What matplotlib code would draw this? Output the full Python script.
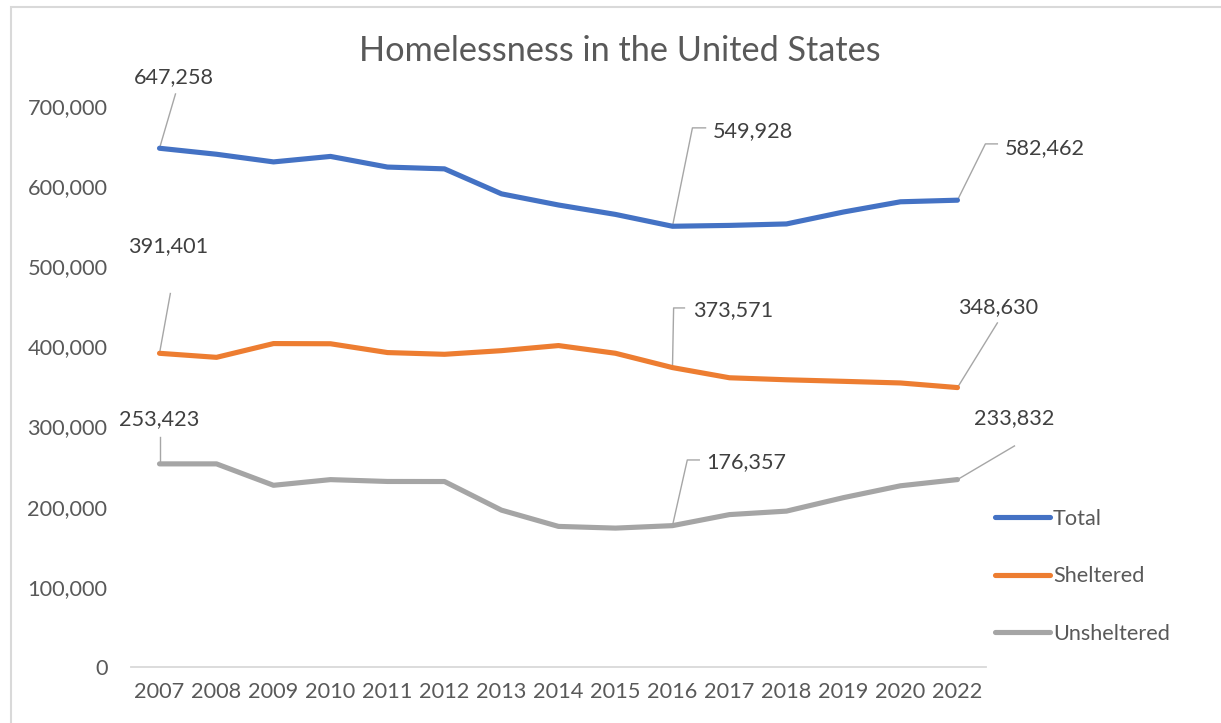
import numpy as np
import matplotlib.pyplot as plt
from matplotlib.patches import Rectangle
from matplotlib.ticker import FuncFormatter

# Données (HUD, estimation)
years = ['2007', '2008', '2009', '2010', '2011', '2012', '2013', '2014',
         '2015', '2016', '2017', '2018', '2019', '2020', '2022']
total = [647258, 639784, 630227, 637077, 623788, 621553, 590364, 576450,
         564708, 549928, 550996, 552830, 567715, 580466, 582462]
sheltered = [391401, 386361, 403543, 403308, 392316, 390155, 394698, 401051,
             391440, 373571, 360867, 358363, 356422, 354386, 348630]
unsheltered = [253423, 253423, 226684, 233769, 231472, 231398, 195666, 175399,
               173268, 176357, 190129, 194467, 211293, 226080, 233832]

series_names = ['Total', 'Sheltered', 'Unsheltered']
colors = ['#4472C4', '#ED7D31', '#A5A5A5']

# index des points étiquetés
label_idx = [0, 9, 14]

plt.rcParams['font.family'] = ['Lato', 'DejaVu Sans']

fig = plt.figure(figsize=(12.21, 7.23), dpi=100)
ax = fig.add_axes([0.1073, 0.0775, 0.7002, 0.7759])

x = np.arange(len(years))
for vals, name, c in zip([total, sheltered, unsheltered], series_names, colors):
    ax.plot(x, vals, color=c, lw=3.7, label=name, solid_capstyle='round',
            solid_joinstyle='round', zorder=3)

ax.set_xlim(-0.5, len(years) - 0.5)
ax.set_ylim(0, 700000)
ax.set_yticks(np.arange(0, 700001, 100000))
ax.yaxis.set_major_formatter(FuncFormatter(lambda v, p: f'{int(v):,}'))
ax.set_xticks(x)
ax.set_xticklabels(years)
ax.tick_params(axis='both', length=0, labelsize=15.7, labelcolor='#595959')
ax.tick_params(axis='y', pad=17)
ax.tick_params(axis='x', pad=11)
for s in ['top', 'right', 'left']:
    ax.spines[s].set_visible(False)
ax.spines['bottom'].set_color('#d9d9d9')
ax.spines['bottom'].set_linewidth(1.3)

# Étiquettes de données avec lignes de rappel
# (texte x, texte y, chemin de la ligne de rappel)
label_layout = {
    ('Total', 0): (0.26, 736000, [(0.28, 715000)]),
    ('Total', 9): (10.42, 669000, [(9.35, 672700), (9.58, 672700)]),
    ('Total', 14): (15.53, 647700, [(14.49, 652700), (14.70, 652700)]),
    ('Sheltered', 0): (0.16, 525400, [(0.19, 466000)]),
    ('Sheltered', 9): (10.07, 445500, [(9.02, 448000), (9.21, 448000)]),
    ('Sheltered', 14): (14.72, 449300, [(14.70, 429300)]),
    ('Unsheltered', 0): (0.0, 309500, [(0.0, 287000)]),
    ('Unsheltered', 9): (10.30, 255800, [(9.26, 258300), (9.47, 258300)]),
    ('Unsheltered', 14): (15.0, 310750, [(15.0, 275800)]),
}
for vals, name in zip([total, sheltered, unsheltered], series_names):
    for i in label_idx:
        tx, ty, path = label_layout[(name, i)]
        px = [i] + [p[0] for p in path]
        py = [vals[i]] + [p[1] for p in path]
        ax.plot(px, py, color='#a6a6a6', lw=1.0, zorder=2, clip_on=False)
        ax.text(tx, ty, f'{vals[i]:,}', ha='center', va='center', fontsize=15.6,
                color='#404040', clip_on=False)

fig.text(0.508, 0.929, 'Homelessness in the United States', ha='center',
         va='center', fontsize=24.7, color='#595959')

fig.legend(loc='upper left', bbox_to_anchor=(995 / 1221, (723 - 509) / 723),
           frameon=False, fontsize=15.6, handlelength=2.55, handletextpad=0.12,
           labelspacing=1.72, borderpad=0, borderaxespad=0, labelcolor='#595959')

# cadre du graphique
fig.patches.append(Rectangle((11 / 1221, -0.05), 1.1, (723 - 7) / 723 + 0.05,
                             transform=fig.transFigure, fill=False,
                             edgecolor='#d9d9d9', lw=1.5))

fig.savefig('out.png', dpi=100)
